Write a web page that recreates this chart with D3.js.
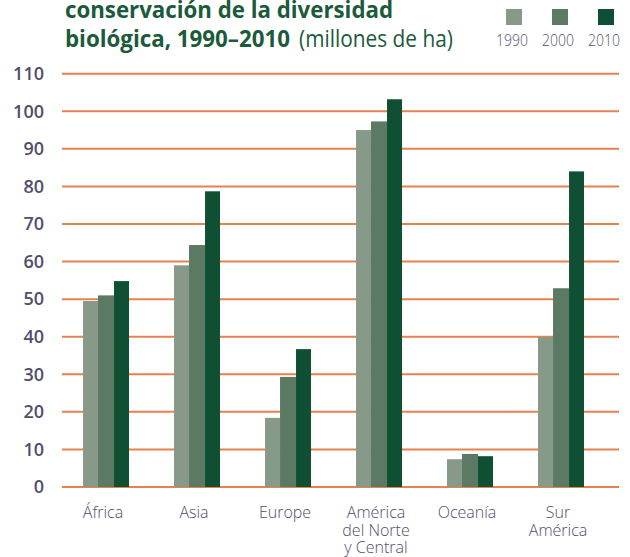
<!DOCTYPE html>
<html><head><meta charset="utf-8">
<script src="https://cdn.jsdelivr.net/npm/d3@7"></script>
<style>html,body{margin:0;padding:0;background:#fff;}svg{display:block;}</style>
</head><body>
<svg id="chart" width="630" height="557"></svg>
<script>
const categories = ["África","Asia","Europe","América del Norte y Central","Oceanía","Sur América"];
const categoryLines = [["África"],["Asia"],["Europe"],["América","del Norte","y Central"],["Oceanía"],["Sur","América"]];
const years = ["1990","2000","2010"];
const v1990 = [49.5, 59, 18.4, 95, 7.4, 39.9];
const v2000 = [51, 64.4, 29.3, 97.3, 8.8, 52.9];
const v2010 = [54.8, 78.7, 36.7, 103.2, 8.2, 84];
const yTicks = [0,10,20,30,40,50,60,70,80,90,100,110];
const colors = ["#879a89","#5c7a63","#0f5034"];

const series = [v1990, v2000, v2010];
const svg = d3.select("#chart");
const labelColor = "#524d6c";

const y = d3.scaleLinear().domain([0,110]).range([487,73.7]);
const x = d3.scaleBand().domain(categories).range([60.5,606.5]).paddingInner(0.495).paddingOuter(0.2475);
const xs = d3.scaleBand().domain(years).range([0,x.bandwidth()]);

// gridlines
const grid = svg.append("g");
grid.selectAll("line").data(yTicks).join("line")
  .attr("x1",62).attr("x2",619)
  .attr("y1",d=>y(d)).attr("y2",d=>y(d))
  .attr("stroke","#e7824f").attr("stroke-width",2);

// y axis labels
const yAxis = d3.axisLeft(y).tickValues(yTicks).tickSize(0).tickPadding(0);
const ya = svg.append("g").attr("transform","translate(44,0)").call(yAxis);
ya.select(".domain").remove();
ya.selectAll("text").attr("fill",labelColor)
  .style("font-family","'Open Sans', sans-serif").style("font-weight","600").style("font-size","18px");

// bars
const groups = svg.append("g").selectAll("g").data(categories).join("g")
  .attr("transform",d=>`translate(${x(d)},0)`);
groups.selectAll("rect").data((c,i)=>years.map((yr,j)=>({yr, v:series[j][i], j})))
  .join("rect")
  .attr("x",d=>Math.round(xs(d.yr)))
  .attr("width",d=>Math.round(xs(d.yr)+xs.bandwidth())-Math.round(xs(d.yr)))
  .attr("y",d=>y(d.v))
  .attr("height",d=>y(0)-y(d.v))
  .attr("fill",d=>colors[d.j]);

// x labels
const xl = svg.append("g");
categories.forEach((c,i)=>{
  const t = xl.append("text")
    .attr("x", x(c)+x.bandwidth()/2-3)
    .attr("y", 518)
    .attr("text-anchor","middle")
    .attr("fill",labelColor)
    .style("font-family","'Open Sans', sans-serif").style("font-weight","300").style("font-size","16px");
  categoryLines[i].forEach((ln,k)=>{
    t.append("tspan").attr("x", x(c)+x.bandwidth()/2-3).attr("dy", k===0?0:17.5).text(ln);
  });
});

// title
const titleColor = "#1b5a3b";
svg.append("text").attr("x",65).attr("y",18)
  .attr("fill",titleColor)
  .style("font-family","'Open Sans', sans-serif").style("font-weight","700").style("font-size","24px")
  .attr("textLength",328).attr("lengthAdjust","spacingAndGlyphs")
  .text("conservación de la diversidad");
svg.append("text").attr("x",65).attr("y",47)
  .attr("fill",titleColor)
  .style("font-family","'Open Sans', sans-serif").style("font-weight","700").style("font-size","24px")
  .attr("textLength",225).attr("lengthAdjust","spacingAndGlyphs")
  .text("biológica, 1990–2010");
svg.append("text").attr("x",299).attr("y",47)
  .attr("fill",titleColor)
  .style("font-family","'Open Sans', sans-serif").style("font-weight","400").style("font-size","24px")
  .attr("textLength",154).attr("lengthAdjust","spacingAndGlyphs")
  .text("(millones de ha)");

// legend
const legX = [506,552,598];
const leg = svg.append("g");
years.forEach((yr,j)=>{
  leg.append("rect").attr("x",legX[j]).attr("y",9).attr("width",16).attr("height",16).attr("fill",colors[j]);
  leg.append("text").attr("x",legX[j]+8-2).attr("y",46).attr("text-anchor","middle")
    .attr("fill",labelColor)
    .style("font-family","'Open Sans', sans-serif").style("font-weight","300").style("font-size","17px")
    .attr("textLength",32).attr("lengthAdjust","spacingAndGlyphs")
    .text(yr);
});
</script>
</body></html>
